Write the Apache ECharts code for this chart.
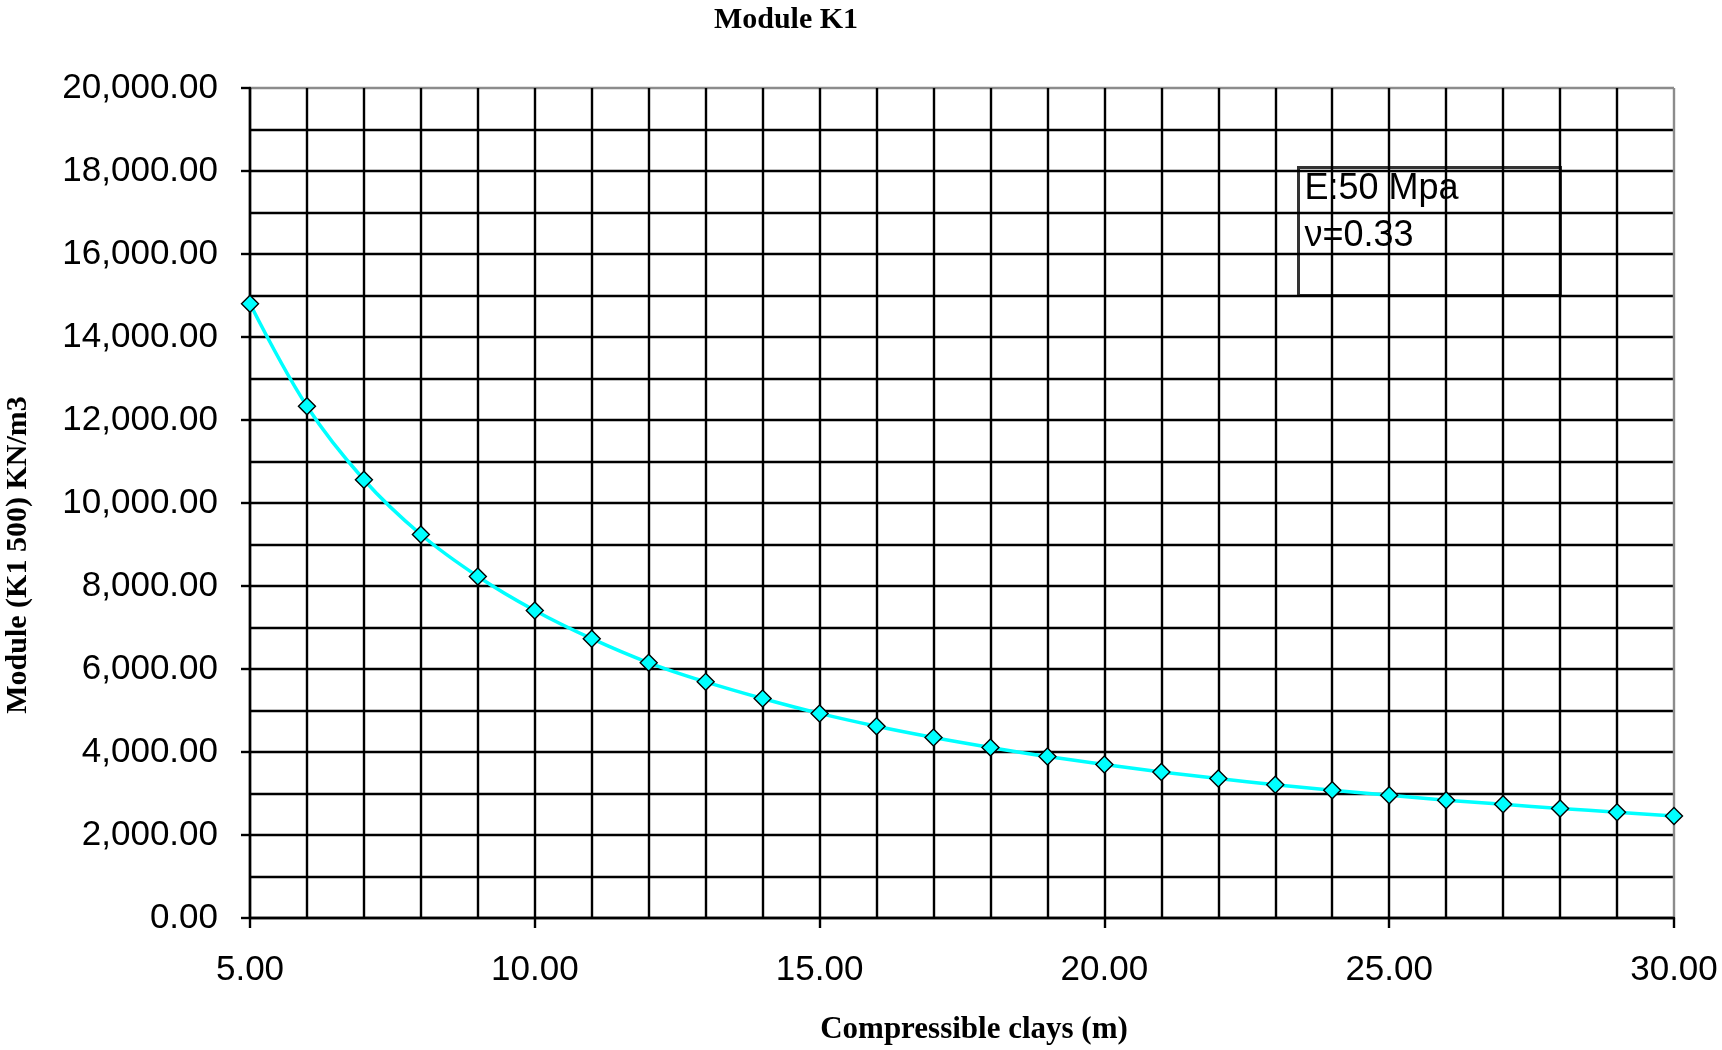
<!DOCTYPE html>
<html>
<head>
<meta charset="utf-8">
<title>Module K1</title>
<script src="https://cdn.jsdelivr.net/npm/echarts@6/dist/echarts.min.js"></script>
<style>
  html, body { margin: 0; padding: 0; background: #fff; }
  #chart { width: 1722px; height: 1050px; }
</style>
</head>
<body>
<div id="chart"></div>
<script>
// --- data ------------------------------------------------------------------
const depths = [5, 6, 7, 8, 9, 10, 11, 12, 13, 14, 15, 16, 17, 18, 19, 20, 21, 22, 23, 24, 25, 26, 27, 28, 29, 30];
const moduleK1 = [14800, 12330, 10560, 9240, 8230, 7410, 6730, 6150, 5690, 5290, 4930, 4620, 4350,
  4110, 3890, 3700, 3520, 3360, 3210, 3080, 2960, 2840, 2740, 2640, 2550, 2460];
const noteLines = ["E:50 Mpa", "\u03bd=0.33"];
const xName = "Compressible clays (m)";
const yName = "Module (K1 500) KN/m3";

// --- styling --------------------------------------------------------------
const SANS = "'Liberation Sans', Arial, sans-serif";
const SERIF = "'Liberation Serif', 'Times New Roman', serif";
const fmt2 = (v) => v.toLocaleString("en-US", { minimumFractionDigits: 2, maximumFractionDigits: 2 });
// last split line (top / right edge) is grey, the rest black
const gridColors = (n) => Array.from({ length: n }, (_, i) => (i === n - 1 ? "#8c8c8c" : "#000"));
const GW = 2.4; // grid line width

const chart = echarts.init(document.getElementById("chart"), null, { renderer: "canvas" });
chart.setOption({
  animation: false,
  backgroundColor: "#fff",
  title: {
    text: "Module K1",
    left: 781, top: 0, textAlign: "center",
    textStyle: { fontFamily: SERIF, fontWeight: "bold", fontSize: 30, color: "#000" },
  },
  grid: { left: 250, right: 48, top: 88, bottom: 132 },
  xAxis: {
    type: "value", min: 5, max: 30, interval: 5,
    axisLine: { show: true, lineStyle: { color: "#000", width: GW } },
    axisTick: { show: true, length: 10, lineStyle: { color: "#000", width: GW } },
    minorTick: { show: false, splitNumber: 5 },
    axisLabel: { margin: 35, fontFamily: SANS, fontSize: 35, color: "#000", formatter: fmt2 },
    splitLine: { show: true, lineStyle: { color: gridColors(6), width: GW } },
    minorSplitLine: { show: true, lineStyle: { color: "#000", width: GW } },
  },
  yAxis: {
    type: "value", min: 0, max: 20000, interval: 2000,
    axisLine: { show: true, lineStyle: { color: "#000", width: GW } },
    axisTick: { show: true, length: 9, lineStyle: { color: "#000", width: GW } },
    minorTick: { show: false, splitNumber: 2 },
    axisLabel: { margin: 32, fontFamily: SANS, fontSize: 35, color: "#000", formatter: fmt2 },
    splitLine: { show: true, lineStyle: { color: gridColors(11), width: GW } },
    minorSplitLine: { show: true, lineStyle: { color: "#000", width: GW } },
  },
  series: [{
    type: "line",
    data: depths.map((d, i) => [d, moduleK1[i]]),
    smooth: 0.35,
    symbol: "diamond",
    symbolSize: 17,
    lineStyle: { color: "#00ffff", width: 3.5 },
    itemStyle: { color: "#00ffff", borderColor: "#000", borderWidth: 1.4 },
    z: 5,
  }],
  graphic: [
    // axis names
    { type: "text", x: 974, y: 1030,
      style: { text: xName, font: `bold 31px ${SERIF}`, fill: "#000", align: "center", verticalAlign: "middle" } },
    { type: "text", x: 18, y: 555, rotation: Math.PI / 2,
      style: { text: yName, font: `bold 30px ${SERIF}`, fill: "#000", align: "center", verticalAlign: "middle" } },
    // parameter box
    { type: "group", left: 1297, top: 166, z: 10,
      children: [
        { type: "rect", shape: { x: 0, y: 0, width: 262, height: 128 },
          style: { fill: "#fff", stroke: "#333", lineWidth: 3 } },
        { type: "text", left: 6, top: 4,
          style: { text: noteLines[0], font: `36px ${SANS}`, fill: "#000" } },
        { type: "text", left: 6, top: 51,
          style: { text: noteLines[1], font: `36px ${SANS}`, fill: "#000" } },
      ] },
  ],
});
</script>
</body>
</html>
